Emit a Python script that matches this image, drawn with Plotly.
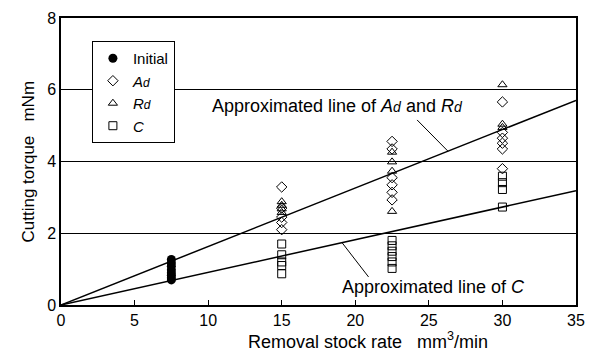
import plotly.graph_objects as go

# ---------------- data ----------------
initial_x = [7.5] * 8
initial_y = [0.70, 0.76, 0.83, 0.90, 0.98, 1.08, 1.17, 1.27]

ad_x = [15] * 5 + [22.5] * 6 + [30] * 6
ad_y = [3.29, 2.70, 2.45, 2.30, 2.10,
        4.56, 4.35, 3.55, 3.35, 3.14, 2.93,
        5.66, 4.81, 4.65, 4.51, 4.35, 3.80]

rd_x = [15] * 4 + [22.5] * 4 + [30] * 3
rd_y = [2.88, 2.78, 2.68, 2.58,
        4.26, 3.99, 3.73, 2.61,
        6.14, 5.04, 4.95]

c_x = [15] * 5 + [22.5] * 6 + [30] * 4
c_y = [1.70, 1.40, 1.20, 1.10, 0.87,
       1.80, 1.65, 1.50, 1.35, 1.20, 1.02,
       3.59, 3.41, 3.22, 2.73]

line_x = [0, 35]
slope_adrd = 0.163
slope_c = 0.091

x_ticks = [0, 5, 10, 15, 20, 25, 30, 35]
y_ticks = [0, 2, 4, 6, 8]

FONT = "Liberation Sans, Arial, sans-serif"
SUB = "<span style='font-size:14px'>d</span>"

fig = go.Figure()

fig.add_trace(go.Scatter(x=line_x, y=[slope_adrd * v for v in line_x], mode="lines",
                         line=dict(color="black", width=1.5), showlegend=False, hoverinfo="skip"))
fig.add_trace(go.Scatter(x=line_x, y=[slope_c * v for v in line_x], mode="lines",
                         line=dict(color="black", width=1.5), showlegend=False, hoverinfo="skip"))

fig.add_trace(go.Scatter(x=initial_x, y=initial_y, mode="markers", name="Initial",
                         marker=dict(symbol="circle", size=9, color="black")))
fig.add_trace(go.Scatter(x=ad_x, y=ad_y, mode="markers",
                         name="<i>A<span style='font-size:12px'>d</span></i>",
                         marker=dict(symbol="diamond-open", size=8, color="black", line=dict(width=1))))
fig.add_trace(go.Scatter(x=rd_x, y=rd_y, mode="markers",
                         name="<i>R<span style='font-size:12px'>d</span></i>",
                         marker=dict(symbol="triangle-up-open", size=8, color="black", line=dict(width=1))))
fig.add_trace(go.Scatter(x=c_x, y=c_y, mode="markers", name="<i>C</i>",
                         marker=dict(symbol="square-open", size=8, color="black", line=dict(width=1))))

# annotation leader lines (arrow without head from text to fitted line)
p1 = 26.3
fig.add_annotation(x=p1, y=slope_adrd * p1, ax=24.1, ay=5.2, axref="x", ayref="y",
                   xref="x", yref="y", text="", showarrow=True, arrowhead=0,
                   arrowwidth=1, arrowcolor="black", standoff=0, startstandoff=0)
p2 = 19.1
fig.add_annotation(x=p2, y=slope_c * p2, ax=20.98, ay=0.74, axref="x", ayref="y",
                   xref="x", yref="y", text="", showarrow=True, arrowhead=0,
                   arrowwidth=1, arrowcolor="black", standoff=0, startstandoff=0)

fig.add_annotation(x=10.15, y=5.55, xref="x", yref="y", xanchor="left", yanchor="middle",
                   showarrow=False,
                   text="Approximated line of <i>A" + SUB + "</i> and <i>R" + SUB + "</i>",
                   font=dict(size=18, color="black", family=FONT))
fig.add_annotation(x=18.95, y=0.49, xref="x", yref="y", xanchor="left", yanchor="middle",
                   showarrow=False, text="Approximated line of <i>C</i>",
                   font=dict(size=18, color="black", family=FONT))

# axis titles
fig.add_annotation(x=12.6, y=0, xref="x", yref="paper", yshift=-35, yanchor="middle",
                   xanchor="left",
                   showarrow=False, text="Removal stock rate   mm<sup>3</sup>/min",
                   font=dict(size=18, color="black", family=FONT))
fig.add_annotation(x=0, y=0.5, xref="paper", yref="paper", xshift=-33, xanchor="center",
                   showarrow=False, text="Cutting torque   mNm", textangle=-90,
                   font=dict(size=17, color="black", family=FONT))

fig.update_layout(
    width=595, height=354,
    margin=dict(l=61, r=10, t=14, b=49),
    paper_bgcolor="white", plot_bgcolor="white",
    font=dict(family=FONT, size=16, color="black"),
    legend=dict(x=0.06, y=0.92, xanchor="left", yanchor="top",
                bordercolor="black", borderwidth=1, bgcolor="white",
                font=dict(size=15, family=FONT), itemwidth=30,
                tracegroupgap=0),
)
fig.update_xaxes(range=[0, 35], tickvals=x_ticks, ticks="inside", ticklen=5,
                 tickcolor="black", showgrid=False, zeroline=False,
                 showline=True, linecolor="black", linewidth=1.5, mirror=True,
                 tickfont=dict(size=16, family=FONT, color="black"))
fig.update_yaxes(range=[0, 8], tickvals=y_ticks, ticks="", showgrid=True,
                 gridcolor="black", gridwidth=1, zeroline=False,
                 showline=True, linecolor="black", linewidth=1.5, mirror=True,
                 tickfont=dict(size=16, family=FONT, color="black"))

fig.write_html("out.html")
